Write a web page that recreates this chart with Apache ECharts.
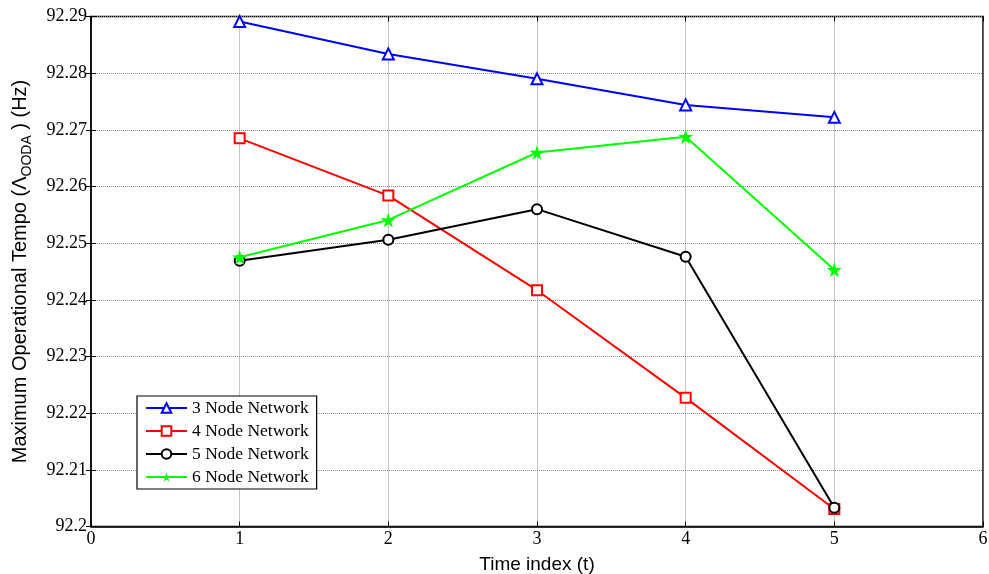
<!DOCTYPE html>
<html><head><meta charset="utf-8">
<script src="https://cdn.jsdelivr.net/npm/echarts@6/dist/echarts.min.js"></script>
<style>html,body{margin:0;padding:0;background:#fff}#c{width:989px;height:574px}</style>
</head><body><div id="c"></div>
<script>
const timeIndex = [1, 2, 3, 4, 5];
const node3 = [92.2891, 92.2834, 92.2790, 92.2744, 92.2722];
const node4 = [92.2685, 92.2584, 92.2417, 92.2227, 92.2031];
const node5 = [92.2469, 92.2506, 92.2560, 92.2476, 92.2033];
const node6 = [92.2475, 92.2541, 92.2660, 92.2688, 92.2453];
const seriesNames = ['3 Node Network', '4 Node Network', '5 Node Network', '6 Node Network'];
const yTicks = ['92.2','92.21','92.22','92.23','92.24','92.25','92.26','92.27','92.28','92.29'];

const star = 'path://M50,0 L61,35 L98,35 L68,57 L79,91 L50,70 L21,91 L32,57 L2,35 L39,35 Z';
const serif = '"Liberation Serif", "Times New Roman", serif';
const sans = '"Liberation Sans", Arial, sans-serif';
function pairs(v){ return timeIndex.map((t,i)=>[t, v[i]]); }
function mk(name, data, color, symbol, size, filled){
  return {name, type:'line', data:pairs(data), symbol, symbolSize:size, showAllSymbol:true,
    lineStyle:{color, width:2}, itemStyle:{color: color, borderColor: color, borderWidth: filled?0:2},
    emphasis:{disabled:true}, animation:false, z: 3};
}
const chart = echarts.init(document.getElementById('c'));
const gridLine = {show:true, lineStyle:{color:'#8a8a8a', type:[1,1], width:1}};
chart.setOption({
  backgroundColor:'#fff',
  animation:false,
  grid:{left:91, right:6, top:16.5, bottom:47.5, show:true, borderColor:'#000', borderWidth:1.5,
    containLabel:false, outerBoundsMode:'none'},
  legend:{
    left:137, top:396, orient:'vertical', data:seriesNames,
    backgroundColor:'#fff', borderColor:'#000', borderWidth:1.2,
    padding:[2,8,2,8], itemGap:3, itemWidth:41, itemHeight:12,
    textStyle:{fontFamily:serif, fontSize:17.5, color:'#000', lineHeight:20}
  },
  xAxis:[{
    type:'value', min:0, max:6, interval:1,
    name:'Time index (t)', nameLocation:'middle', nameGap:29,
    nameTextStyle:{fontFamily:sans, fontSize:19, color:'#000'},
    axisLine:{show:true, onZero:false, lineStyle:{color:'#000', width:1.5}},
    axisTick:{show:true, inside:true, length:5, lineStyle:{color:'#000'}},
    axisLabel:{fontFamily:serif, fontSize:18, color:'#000', margin:4},
    splitLine:gridLine
  },{
    type:'value', min:0, max:6, interval:1, position:'top',
    axisLine:{show:false}, axisTick:{show:true, inside:true, length:5, lineStyle:{color:'#000'}},
    axisLabel:{show:false}, splitLine:{show:false}
  }],
  yAxis:[{
    type:'value', min:92.2, max:92.29, interval:0.01,
    name:'{a|Maximum Operational Tempo (Λ}{b|OODA}{a| ) (Hz)}', nameLocation:'middle', nameGap:57, nameRotate:90,
    nameTextStyle:{color:'#000', rich:{
      a:{fontFamily:sans, fontSize:20, color:'#000', lineHeight:24, verticalAlign:'top'},
      b:{fontFamily:sans, fontSize:14, color:'#000', lineHeight:24, verticalAlign:'bottom', padding:[9,0,0,0]}
    }},
    axisLine:{show:true, onZero:false, lineStyle:{color:'#000', width:1.5}},
    axisTick:{show:true, inside:true, length:5, lineStyle:{color:'#000'}},
    axisLabel:{fontFamily:serif, fontSize:18, color:'#000', margin:4,
      formatter:(v)=>{ const s = (Math.round(v*100)/100).toString(); return yTicks.includes(s)?s:s; }},
    splitLine:gridLine
  },{
    type:'value', min:92.2, max:92.29, interval:0.01, position:'right',
    axisLine:{show:false}, axisTick:{show:true, inside:true, length:5, lineStyle:{color:'#000'}},
    axisLabel:{show:false}, splitLine:{show:false}
  }],
  series:[
    mk(seriesNames[0], node3, '#0000ff', 'emptyTriangle', 11, false),
    mk(seriesNames[1], node4, '#ff0000', 'emptyRect', 10, false),
    mk(seriesNames[2], node5, '#000000', 'emptyCircle', 10, false),
    mk(seriesNames[3], node6, '#00ff00', star, 15, true)
  ]
});
</script></body></html>
